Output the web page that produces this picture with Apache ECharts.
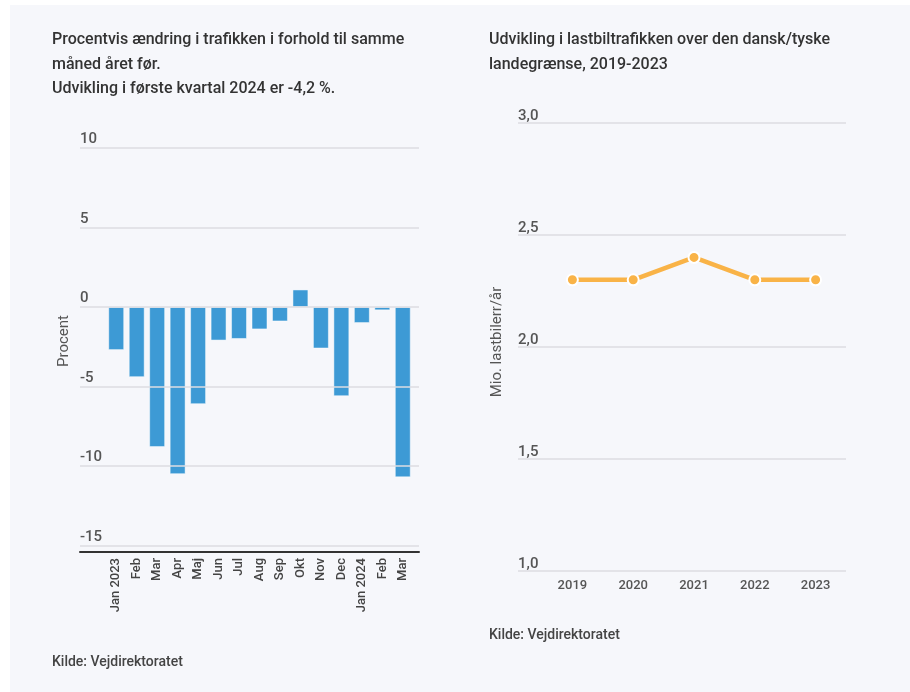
<!DOCTYPE html>
<html>
<head>
<meta charset="utf-8">
<script src="https://cdn.jsdelivr.net/npm/echarts@6/dist/echarts.min.js"></script>
<style>
  html, body { margin: 0; padding: 0; background: #ffffff; }
  #panel { position: absolute; left: 10px; top: 5px; width: 900px; height: 687px; background: #f6f7fb; }
  #chart { position: absolute; left: 0; top: 0; width: 910px; height: 692px; }
</style>
</head>
<body>
<div id="panel"></div>
<div id="chart"></div>
<script>
// Monthly traffic change vs. same month previous year (percent)
const months = ['Jan 2023', 'Feb', 'Mar', 'Apr', 'Maj', 'Jun', 'Jul', 'Aug', 'Sep', 'Okt', 'Nov', 'Dec', 'Jan 2024', 'Feb', 'Mar'];
const changePct = [-2.7, -4.4, -8.8, -10.5, -6.1, -2.1, -2.0, -1.4, -0.9, 1.1, -2.6, -5.6, -1.0, -0.2, -10.7];
const pctTicks = [10, 5, 0, -5, -10, -15];

// Lorries crossing the Danish/German border (million per year)
const years = ['2019', '2020', '2021', '2022', '2023'];
const lorries = [2.3, 2.3, 2.4, 2.3, 2.3];

const leftTitle = 'Procentvis ændring i trafikken i forhold til samme\nmåned året før.\nUdvikling i første kvartal 2024 er -4,2 %.';
const rightTitle = 'Udvikling i lastbiltrafikken over den dansk/tyske\nlandegrænse, 2019-2023';
const sourceText = 'Kilde: Vejdirektoratet';
const leftAxisName = 'Procent';
const rightAxisName = 'Mio. lastbilerr/år';

const FONT = 'Roboto, "Noto Sans", sans-serif';
const tickStyle = { color: '#555', fontSize: 15, fontWeight: 500, fontFamily: FONT };
const titleStyle = { color: '#333', fontSize: 16, fontWeight: 500, lineHeight: 24.5, fontFamily: FONT };
const sourceStyle = { color: '#444', fontSize: 14, fontWeight: 500, fontFamily: FONT };

const chart = echarts.init(document.getElementById('chart'), null, { renderer: 'canvas' });

chart.setOption({
  backgroundColor: 'transparent',
  animation: false,
  title: [
    { text: leftTitle, left: 52, top: 28, padding: 0, textStyle: titleStyle },
    { text: rightTitle, left: 489, top: 28, padding: 0, textStyle: titleStyle },
    { text: sourceText, left: 52, top: 655, padding: 0, textStyle: sourceStyle },
    { text: sourceText, left: 489, top: 628, padding: 0, textStyle: sourceStyle }
  ],
  graphic: [
    {
      type: 'text', x: 64, y: 341, rotation: Math.PI / 2,
      style: { text: leftAxisName, fill: '#555', font: '15px ' + FONT, align: 'center', verticalAlign: 'middle' }
    },
    {
      type: 'text', x: 497, y: 342, rotation: Math.PI / 2,
      style: { text: rightAxisName, fill: '#555', font: '15px ' + FONT, align: 'center', verticalAlign: 'middle' }
    }
  ],
  grid: [
    // left: gridlines + tick labels (full width)
    { left: 80, right: 491, top: 148, bottom: 140 },
    // left: bars
    { left: 106, right: 497, top: 148, bottom: 140 },
    // right: gridlines + tick labels
    { left: 518, right: 64, top: 123, bottom: 121 },
    // right: line
    { left: 542, right: 64, top: 123, bottom: 121 }
  ],
  xAxis: [
    {
      gridIndex: 0, type: 'value', min: 0, max: 1,
      axisLine: { show: true, onZero: false, lineStyle: { color: '#333', width: 2 } },
      axisTick: { show: false }, axisLabel: { show: false }, splitLine: { show: false }
    },
    {
      gridIndex: 1, type: 'category', data: months,
      axisLine: { show: false, onZero: false }, axisTick: { show: false },
      axisLabel: { rotate: 90, margin: 6, interval: 0, color: '#444', fontSize: 13, fontWeight: 500, fontFamily: FONT }
    },
    {
      gridIndex: 2, type: 'value', min: 0, max: 1,
      axisLine: { show: false }, axisTick: { show: false }, axisLabel: { show: false }, splitLine: { show: false }
    },
    {
      gridIndex: 3, type: 'category', data: years, boundaryGap: true,
      axisLine: { show: false }, axisTick: { show: false },
      axisLabel: { margin: 8, color: '#555', fontSize: 13, fontWeight: 500, fontFamily: FONT }
    }
  ],
  yAxis: [
    {
      gridIndex: 0, type: 'value', min: -15.4, max: 10,
      axisLine: { show: false }, axisTick: { show: false },
      axisLabel: {
        inside: true, margin: 0, verticalAlign: 'bottom', padding: [0, 0, 1, 0],
        customValues: pctTicks, ...tickStyle
      },
      splitLine: { show: false }
    },
    {
      gridIndex: 1, type: 'value', min: -15.4, max: 10,
      axisLine: { show: false }, axisTick: { show: false }, axisLabel: { show: false }, splitLine: { show: false }
    },
    {
      gridIndex: 2, type: 'value', min: 1, max: 3, interval: 0.5,
      axisLine: { show: false }, axisTick: { show: false },
      axisLabel: {
        inside: true, margin: 0, verticalAlign: 'bottom', padding: [0, 0, -1, 0],
        formatter: v => v.toFixed(1).replace('.', ','), ...tickStyle
      },
      splitLine: { show: true, lineStyle: { color: '#dcdde2', width: 1.5 } }
    },
    {
      gridIndex: 3, type: 'value', min: 1, max: 3,
      axisLine: { show: false }, axisTick: { show: false }, axisLabel: { show: false }, splitLine: { show: false }
    }
  ],
  series: [
    {
      // horizontal gridlines for the left panel
      type: 'line', xAxisIndex: 0, yAxisIndex: 0, data: [], silent: true,
      markLine: {
        symbol: 'none', silent: true, label: { show: false },
        lineStyle: { color: '#dcdde2', width: 1.5, type: 'solid' },
        data: pctTicks.map(v => ({ yAxis: v }))
      }
    },
    {
      type: 'bar', xAxisIndex: 1, yAxisIndex: 1, data: changePct,
      barCategoryGap: '23%',
      itemStyle: { color: '#3d9ad5', borderColor: 'rgba(255,255,255,0.6)', borderWidth: 0.8 }
    },
    {
      type: 'line', xAxisIndex: 3, yAxisIndex: 3, data: lorries,
      symbol: 'circle', symbolSize: 11,
      lineStyle: { color: '#f9b347', width: 4.5 },
      itemStyle: { color: '#f9b347', borderColor: '#ffffff', borderWidth: 2 }
    }
  ]
});
</script>
</body>
</html>
